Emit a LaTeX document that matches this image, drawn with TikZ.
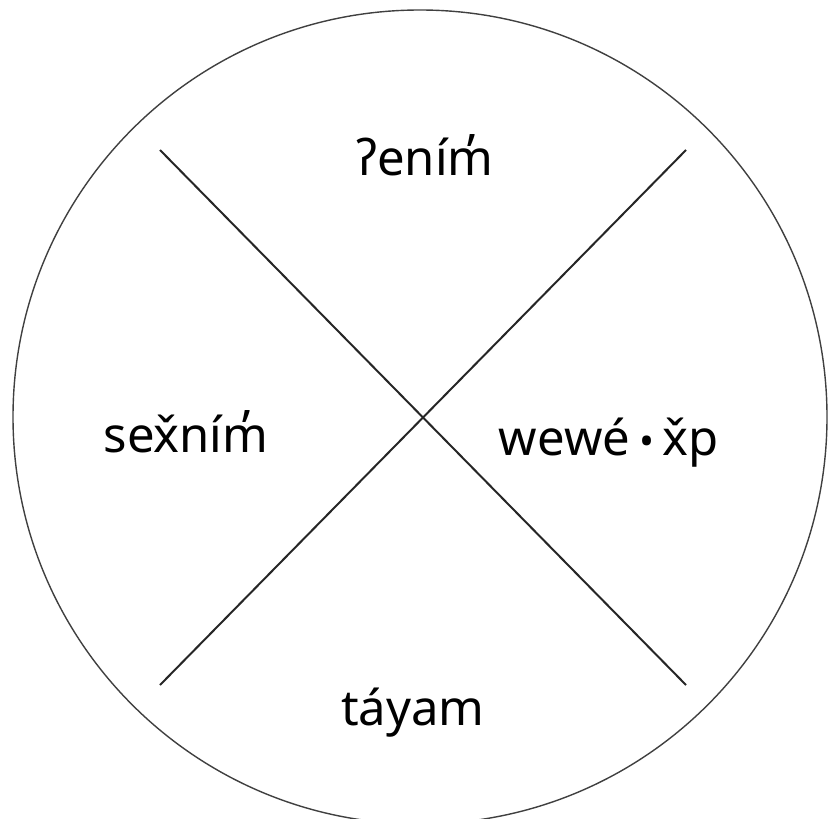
\documentclass[tikz,border=0pt]{standalone}
\usepackage{fontspec}
\setmainfont{Noto Sans}
\begin{document}
\begin{tikzpicture}[x=0.5pt,y=-0.5pt,
  lbl/.style={font=\fontsize{24.5}{28}\selectfont, text=black, inner sep=0pt, anchor=base},
  ring/.style={draw=black!75, line width=0.7pt},
  cross/.style={draw=black!85, line width=1pt}]
\useasboundingbox (0,0) rectangle (828,818);
\coordinate (c) at (420,417);
\draw[ring] (c) circle[radius=407];
\coordinate (tl) at (160,150);
\coordinate (br) at (686,685);
\coordinate (tr) at (686,150);
\coordinate (bl) at (160,685);
\draw[cross] (tl) -- (br);
\draw[cross] (tr) -- (bl);
\node[lbl] (top) at (425,176) {ʔením̓};
\node[lbl] (left) at (186,452) {sex̌ním̓};
\node[lbl] (right) at (609,455) {wewé\hspace{0.18em}{\fontsize{20}{24}\selectfont •}\hspace{0.18em}x̌p};
\node[lbl] (bottom) at (413,725) {táyam};
\end{tikzpicture}
\end{document}
